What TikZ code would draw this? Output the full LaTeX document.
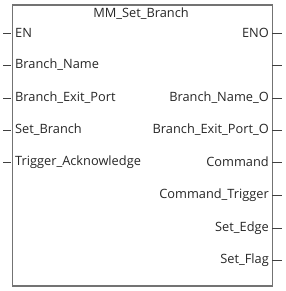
\documentclass[tikz,border=0pt]{standalone}
\usepackage{fontspec}
\setmainfont{Open Sans}
\begin{document}
\begin{tikzpicture}[x=1pt,y=1pt,
  lbl/.style={inner sep=0pt,font=\fontsize{12.8}{15}\selectfont,text=black!85},
  pin/.style={draw=black!75,line width=0.9pt},
  box/.style={draw=black!55,line width=1.6pt}]
\useasboundingbox (0,0) rectangle (285,291);
\node[box,minimum width=260pt,minimum height=281pt,anchor=north west,inner sep=0pt] (blk) at (11.5,286.5) {};
\node[lbl] (title) at (141,277) {MM\_Set\_Branch};
% left pins
\foreach \n/\t/\y in {en/EN/258,bn/Branch\_Name/226,bep/Branch\_Exit\_Port/193,sb/Set\_Branch/161,ta/Trigger\_Acknowledge/129}{
  \coordinate (\n p) at (3,\y);
  \coordinate (\n b) at (11,\y);
  \draw[pin] (\n p) -- (\n b);
  \node[lbl,anchor=west] (\n) at (15,\y) {\t};
}
% right pins
\foreach \n/\t/\y in {eno/ENO/258,blank//226,bno/Branch\_Name\_O/193,bepo/Branch\_Exit\_Port\_O/161,cmd/Command/129,ct/Command\_Trigger/96,se/Set\_Edge/63,sf/Set\_Flag/31}{
  \coordinate (\n p) at (282,\y);
  \coordinate (\n b) at (272,\y);
  \draw[pin] (\n b) -- (\n p);
  \node[lbl,anchor=east] (\n) at (269,\y) {\t};
}
\end{tikzpicture}
\end{document}
